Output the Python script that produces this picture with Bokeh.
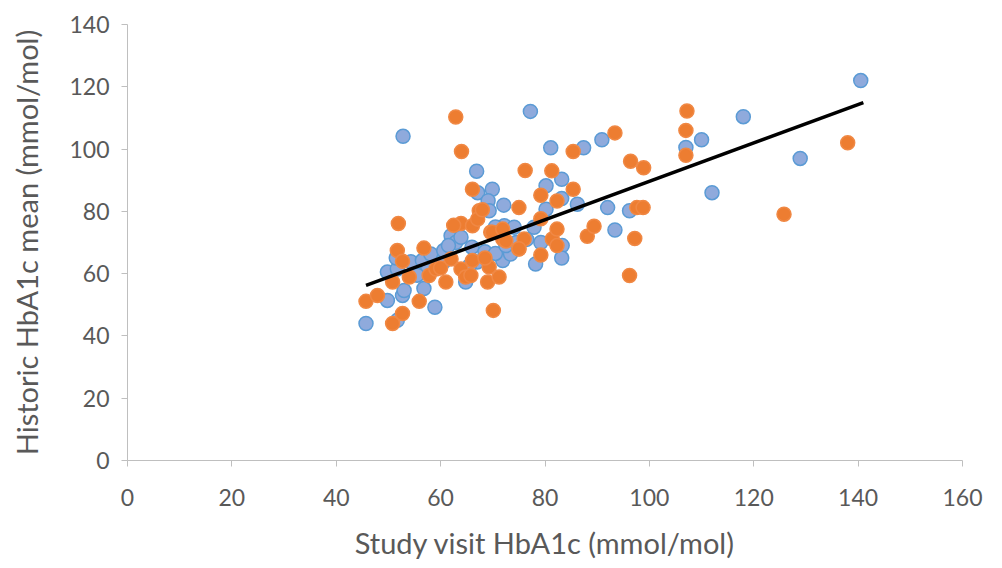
from bokeh.plotting import figure
from bokeh.models import Range1d, FixedTicker, ColumnDataSource
from bokeh.embed import file_html
from bokeh.resources import INLINE

# Series 1 (blue)
blue_x = [45.7, 51.7, 49.8, 52.7, 53.0, 56.8, 58.9, 49.8, 51.7, 54.3, 56.5, 58.1, 60.6, 60.6,
          62.0, 62.9, 63.9, 64.8, 67.0, 71.9, 73.4, 79.2, 78.2, 83.3, 83.2, 52.8, 66.9, 67.1,
          69.9, 69.1, 72.1, 69.3, 72.2, 74.1, 77.9, 77.2, 81.1, 87.4, 90.9, 80.2, 83.2, 83.2,
          86.2, 80.2, 92.0, 96.2, 93.4, 107.0, 110.0, 112.0, 118.0, 128.9, 140.5, 65.5, 57.5,
          55.5, 61.5, 66.0, 68.5, 70.5, 72.5, 74.5, 70.5, 76.5, 51.5]
blue_y = [44.0, 45.0, 51.4, 53.0, 54.6, 55.2, 49.2, 60.5, 61.5, 63.8, 64.2, 66.3, 63.8, 67.4,
          72.2, 70.0, 71.7, 57.3, 63.7, 64.2, 66.3, 70.0, 63.1, 69.0, 65.0, 104.1, 92.9, 86.0,
          87.1, 83.4, 82.0, 80.2, 75.4, 74.9, 74.9, 112.1, 100.4, 100.4, 103.0, 88.2, 90.3, 84.1,
          82.3, 80.7, 81.2, 80.2, 74.0, 100.5, 103.0, 86.0, 110.4, 97.0, 122.0, 62.5, 61.0,
          59.5, 69.0, 68.5, 67.0, 66.5, 69.0, 70.0, 75.0, 71.0, 65.0]

# Series 2 (orange)
orange_x = [45.7, 47.9, 50.8, 50.8, 52.7, 55.9, 51.7, 52.7, 54.0, 56.8, 57.8, 59.1, 60.0, 61.0,
            62.0, 63.9, 64.8, 66.1, 69.3, 69.0, 71.2, 70.1, 75.0, 76.0, 79.2, 81.4, 82.3, 88.1,
            69.6, 71.9, 65.8, 62.9, 64.0, 66.1, 51.9, 63.9, 66.1, 67.4, 67.1, 76.2, 81.3, 85.4,
            85.4, 79.2, 82.3, 75.0, 79.2, 82.3, 89.4, 69.9, 71.9, 93.4, 96.4, 98.9, 97.6, 98.8,
            97.2, 96.2, 107.2, 107.0, 107.0, 125.8, 138.0, 68.0, 62.5, 68.5, 72.5, 75.0]
orange_y = [51.1, 53.0, 57.3, 44.0, 47.2, 51.1, 67.4, 64.0, 58.9, 68.2, 59.4, 61.5, 61.8, 57.3,
            64.7, 61.5, 58.9, 64.2, 62.1, 57.3, 58.9, 48.2, 67.9, 71.1, 66.0, 71.1, 69.0, 72.0,
            73.3, 71.1, 59.4, 110.3, 99.2, 87.1, 76.1, 76.1, 75.4, 80.2, 77.5, 93.1, 93.0, 99.2,
            87.1, 85.2, 83.3, 81.2, 77.6, 74.3, 75.2, 73.3, 74.3, 105.2, 96.1, 94.0, 81.2, 81.2,
            71.3, 59.4, 112.2, 106.0, 98.0, 79.1, 102.0, 80.5, 75.5, 65.0, 70.5, 68.0]

# Linear trend line (endpoints)
trend_x = [45.7, 141.0]
trend_y = [56.2, 114.9]

x_ticks = [0, 20, 40, 60, 80, 100, 120, 140, 160]
y_ticks = [0, 20, 40, 60, 80, 100, 120, 140]

FONT = "Lato"
TEXT_COLOR = "#595959"
AXIS_COLOR = "#BFBFBF"

p = figure(width=984, height=562, output_backend="svg", toolbar_location=None,
           x_range=Range1d(0, 160), y_range=Range1d(0, 140),
           min_border_left=127, min_border_right=22, min_border_top=24, min_border_bottom=100)
p.outline_line_color = None
p.grid.visible = False

blue_src = ColumnDataSource(dict(x=blue_x, y=blue_y))
orange_src = ColumnDataSource(dict(x=orange_x, y=orange_y))
p.scatter("x", "y", source=blue_src, size=14, fill_color="#8FAADC",
          line_color="#5B9BD5", line_width=1.5)
p.scatter("x", "y", source=orange_src, size=14, fill_color="#ED7D31",
          line_color="#F08844", line_width=1.5)
p.line(trend_x, trend_y, line_color="black", line_width=3.5)

for ax, ticks in ((p.xaxis, x_ticks), (p.yaxis, y_ticks)):
    ax.ticker = FixedTicker(ticks=ticks)
    ax.axis_line_color = AXIS_COLOR
    ax.major_tick_line_color = AXIS_COLOR
    ax.major_tick_out = 6
    ax.major_tick_in = 0
    ax.minor_tick_line_color = None
    ax.major_label_text_font = FONT
    ax.major_label_text_font_size = "23px"
    ax.major_label_text_color = TEXT_COLOR
    ax.axis_label_text_font = FONT
    ax.axis_label_text_font_size = "29px"
    ax.axis_label_text_color = TEXT_COLOR
    ax.axis_label_text_font_style = "normal"

p.xaxis.axis_label = "Study visit HbA1c (mmol/mol)"
p.yaxis.axis_label = "Historic HbA1c mean (mmol/mol)"
p.xaxis.major_label_standoff = 22
p.yaxis.major_label_standoff = 12
p.xaxis.axis_label_standoff = 16
p.yaxis.axis_label_standoff = 22

open("out.html", "w").write(file_html(p, INLINE))
